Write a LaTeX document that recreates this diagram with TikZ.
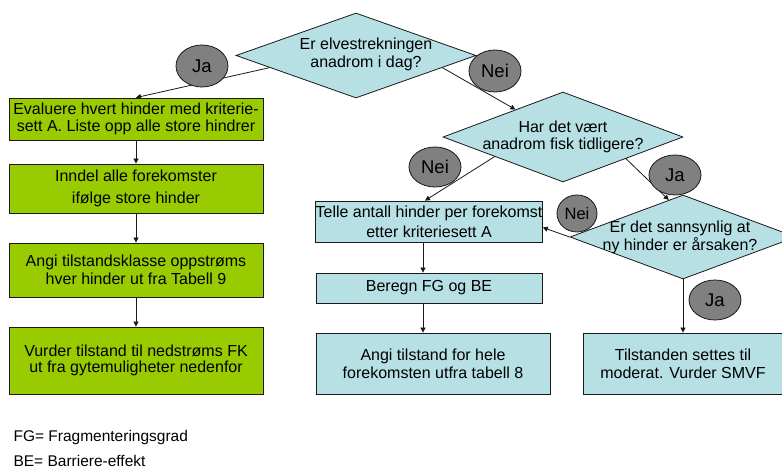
\documentclass[tikz,border=0pt]{standalone}
\usepackage{fontspec}
\setmainfont{Liberation Sans}
\usetikzlibrary{arrows.meta, shapes.geometric}
\definecolor{boxgreen}{RGB}{153,204,0}
\definecolor{boxblue}{RGB}{183,224,228}
\definecolor{circgray}{RGB}{128,128,128}
\definecolor{lineink}{RGB}{25,25,25}
\tikzset{
  greenbox/.style={
    draw=lineink,
    line width=0.8pt,
    fill=boxgreen,
    align=center,
    minimum width=254pt,
    inner sep=0pt,
    font=\fontsize{16}{18}\selectfont
  },
  bluebox/.style={
    draw=lineink,
    line width=0.8pt,
    fill=boxblue,
    align=center,
    inner sep=0pt,
    font=\fontsize{16}{18}\selectfont
  },
  decision/.style={
    diamond,
    draw=lineink,
    line width=0.8pt,
    fill=boxblue,
    inner sep=0pt
  },
  qtext/.style={align=center, font=\fontsize{16}{18}\selectfont},
  answer/.style={
    ellipse,
    draw=lineink,
    line width=0.8pt,
    fill=circgray,
    inner sep=0pt,
    minimum width=52pt,
    minimum height=42pt,
    font=\fontsize{18.5}{20}\selectfont
  },
  arrow/.style={-{Triangle[length=5pt,width=5pt]}, line width=0.8pt, draw=lineink},
  legend/.style={anchor=west, font=\fontsize{15.5}{17}\selectfont}
}

\begin{document}
\begin{tikzpicture}[x=1pt,y=-1pt]
    \useasboundingbox (0,0) rectangle (782,470);

    % decisions
    \node[decision, minimum width=240pt, minimum height=85pt] (q1) at (356,55.5) {};
    \node[qtext] (q1txt) at (366,54) {Er elvestrekningen\\anadrom i dag?};
    \node[decision, minimum width=240pt, minimum height=90pt] (q2) at (563,137) {};
    \node[qtext, font=\fontsize{16}{17.3}\selectfont] (q2txt) at (563,137) {Har det vært\\anadrom fisk tidligere?};
    \node[decision, minimum width=226pt, minimum height=84pt] (q3) at (683,237) {};
    \node[qtext] (q3txt) at (680,237) {Er det sannsynlig at\\ny hinder er årsaken?};

    % left column
    \node[greenbox, minimum height=42pt, font=\fontsize{16}{16.7}\selectfont] (evaluere) at (136,119) {Evaluere hvert hinder med kriterie-\\sett A. Liste opp alle store hindrer};
    \node[greenbox, minimum height=49pt, font=\fontsize{16}{21.7}\selectfont] (inndel) at (136,188.5) {Inndel alle forekomster\\ifølge store hinder};
    \node[greenbox, minimum height=54pt] (klasse) at (136,270) {Angi tilstandsklasse oppstrøms\\hver hinder ut fra Tabell 9};
    \node[greenbox, minimum height=67pt, font=\fontsize{16}{16.7}\selectfont] (vurder) at (136,360.5) {Vurder tilstand til nedstrøms FK\\ut fra gytemuligheter nedenfor};

    % right part
    \node[bluebox, minimum width=226pt, minimum height=41pt, font=\fontsize{16}{20}\selectfont] (telle) at (429,221.5) {Telle antall hinder per forekomst\\etter kriteriesett A};
    \node[bluebox, minimum width=226pt, minimum height=30pt] (beregn) at (429,288) {Beregn FG og BE};
    \node[bluebox, minimum width=234pt, minimum height=61pt] (angi) at (433,363.5) {Angi tilstand for hele\\forekomsten utfra tabell 8};
    \node[bluebox, minimum width=200pt, minimum height=61pt] (tilstand) at (683,363.5) {Tilstanden settes til\\moderat. Vurder SMVF};

    \draw[arrow] (q1.188) -- (evaluere.north);
    \draw[arrow] (q1.352) -- (q2.150);
    \draw[arrow] (evaluere) -- (inndel);
    \draw[arrow] (inndel) -- (klasse);
    \draw[arrow] (klasse) -- (vurder);
    \draw[arrow] (q2.196) -- ([xshift=-4pt]telle.north);
    \draw[arrow] (q2.-19) -- (q3.111);
    \draw[arrow] (q3.west) -- (telle.-3);
    \draw[arrow] ([xshift=-6pt]telle.south) -- ([xshift=-6pt]beregn.north);
    \draw[arrow] ([xshift=-6pt]beregn.south) -- ([xshift=-10pt]angi.north);
    \draw[arrow] (q3.south) -- (tilstand.north);

    % answers on top of the lines
    \node[answer] (ja1) at (202,66) {Ja};
    \node[answer] (nei1) at (495,71) {Nei};
    \node[answer, minimum height=40pt] (nei2) at (435,167) {Nei};
    \node[answer, minimum height=40pt] (ja2) at (675,175) {Ja};
    \node[answer, minimum width=40pt, minimum height=37pt, font=\fontsize{16.5}{18}\selectfont] (nei3) at (577,213.5) {Nei};
    \node[answer, minimum height=40pt] (ja3) at (715,300) {Ja};

    \node[legend] (fg) at (10,437) {FG= Fragmenteringsgrad};
    \node[legend] (be) at (10,461) {BE= Barriere-effekt};
\end{tikzpicture}
\end{document}
